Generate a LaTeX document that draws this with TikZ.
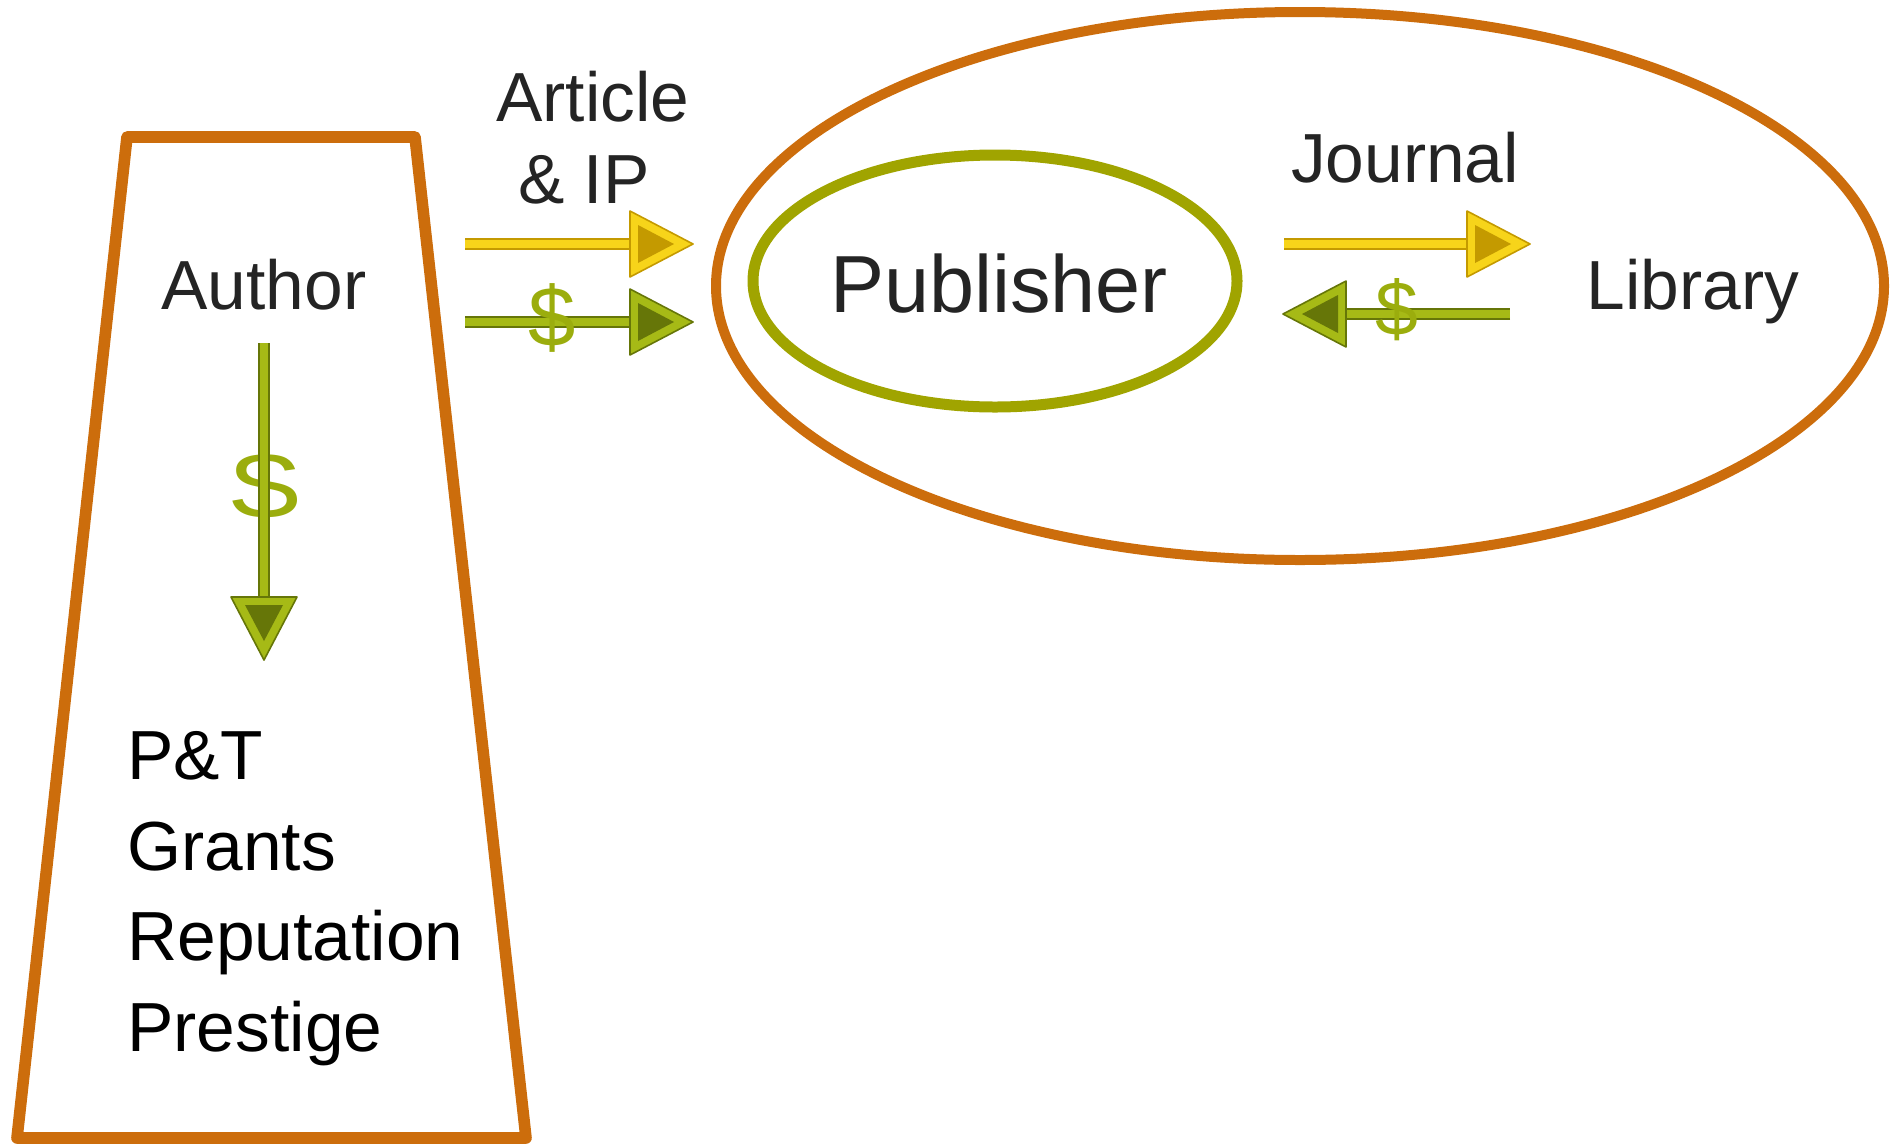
\documentclass[tikz,border=0pt]{standalone}
\usepackage{fontspec}
\setmainfont{Liberation Sans}
\usetikzlibrary{positioning}

\definecolor{rimorange}{HTML}{CC6D0C}
\definecolor{olivering}{HTML}{A0A400}
\definecolor{goldA}{HTML}{F7D41A}
\definecolor{goldB}{HTML}{C49A00}
\definecolor{moneyA}{HTML}{A6BA16}
\definecolor{moneyB}{HTML}{667608}
\definecolor{dollar}{HTML}{9BAD0D}
\definecolor{ink}{HTML}{242424}

\tikzset{
  pics/bevelhead/.style 2 args={code={
    \fill[#1, draw=#2, line width=0.8pt, line join=round] (-63,-33) -- (0,0) -- (-63,33) -- cycle;
    \fill[#2] (-55,-19) -- (-19,0) -- (-55,19) -- cycle;
  }},
}

\begin{document}
\begin{tikzpicture}[x=0.5pt, y=-0.5pt,
    word/.style={font=\fontsize{34.75}{41}\selectfont, text=ink, inner sep=0pt},
    cash/.style={font=\fontsize{#1}{#1}\selectfont, text=dollar, inner sep=0pt},
    rim/.style={draw=rimorange, line width=5.8pt, line join=round},
    shaft/.style 2 args={draw=#2, double=#1, double distance=4.4pt, line width=0.8pt, shorten >=30pt},
  ]
  \useasboundingbox (0,0) rectangle (1899,1146);

  % author column
  \draw[rim] (127,137) -- (415,137) -- (526,1138) -- (17,1138) -- cycle;
  \node[word, anchor=base] (author) at (264,309) {Author};
  \node[word, text=black, anchor=base west, align=left,
        font=\fontsize{34.75}{45.2}\selectfont] (merits) at (127,1051)
        {P\&T\\Grants\\Reputation\\Prestige};

  % publisher and library
  \draw[rim, line width=5pt] (1300,286) ellipse [x radius=584, y radius=274];
  \draw[draw=olivering, line width=5.5pt] (995,281) ellipse [x radius=242, y radius=126];
  \node[word, font=\fontsize{40.5}{48}\selectfont, anchor=base] (publisher) at (999,312) {Publisher};
  \node[word, anchor=base] (library) at (1693,309) {Library};
  \node[word, anchor=base] (journal) at (1405,182) {Journal};
  \node[word, anchor=base] (article) at (593,121) {Article};
  \node[word, anchor=base] (ip) at (584,203) {\& IP};

  % arrow ends
  \coordinate (art-tail) at (465,244);
  \coordinate (art-tip) at (693,244);
  \coordinate (fee-tail) at (465,322);
  \coordinate (fee-tip) at (693,322);
  \coordinate (jnl-tail) at (1284,244);
  \coordinate (jnl-tip) at (1530,244);
  \coordinate (sub-tail) at (1510,314);
  \coordinate (sub-tip) at (1283,314);
  \coordinate (pay-tail) at (264,343);
  \coordinate (pay-tip) at (264,660);

  % money down to merits
  \node[cash=47] (pay) at (265,487) {\scalebox{1.3}[1]{\$}};
  \draw[shaft={moneyA}{moneyB}] (pay-tail) -- (pay-tip);
  \pic[rotate=-90] at (pay-tip) {bevelhead={moneyA}{moneyB}};

  % author to publisher
  \draw[shaft={goldA}{goldB}] (art-tail) -- (art-tip);
  \pic at (art-tip) {bevelhead={goldA}{goldB}};
  \draw[shaft={moneyA}{moneyB}] (fee-tail) -- (fee-tip);
  \pic at (fee-tip) {bevelhead={moneyA}{moneyB}};
  \node[cash=42.5] (fee) at (552,318) {\$};

  % publisher and library
  \draw[shaft={goldA}{goldB}] (jnl-tail) -- (jnl-tip);
  \pic at (jnl-tip) {bevelhead={goldA}{goldB}};
  \draw[shaft={moneyA}{moneyB}] (sub-tail) -- (sub-tip);
  \pic[rotate=180] at (sub-tip) {bevelhead={moneyA}{moneyB}};
  \node[cash=38.5] (sub) at (1397,310) {\$};
\end{tikzpicture}
\end{document}
